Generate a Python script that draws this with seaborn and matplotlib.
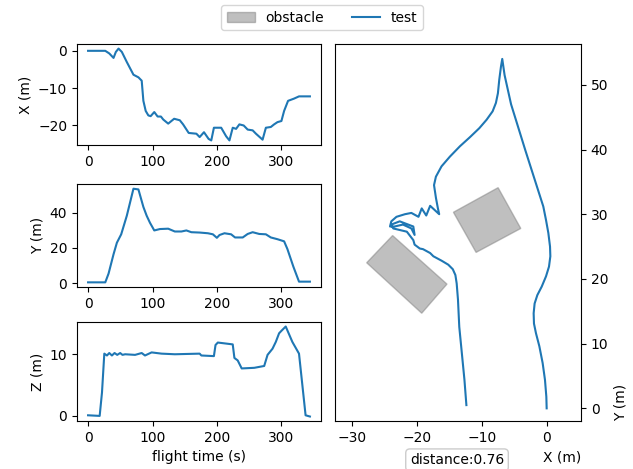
import matplotlib
matplotlib.use("Agg")
import matplotlib.pyplot as plt
import matplotlib.patches as mpatches
from matplotlib.lines import Line2D
import seaborn as sns

# time series
t_x = [0, 26.7, 32.9, 39.5, 43.1, 47.3, 52.4, 60.1, 70.4, 78.1, 83.2, 85.8, 89.4, 93.5, 97.1,
       102.7, 107.9, 113.0, 116.6, 124.3, 133.5, 142.3, 147.4, 156.1, 168.0, 173.1, 179.8,
       187.0, 191.1, 195.2, 206.5, 214.2, 219.3, 224.4, 229.6, 234.7, 241.4, 247.6, 255.3,
       260.4, 270.7, 275.8, 283.5, 288.6, 293.8, 299.9, 304.1, 310.2, 319.5, 327.2, 344.1]
x_vals = [0, 0, -0.7, -1.9, -0.3, 0.6, -0.3, -3.0, -6.4, -7.1, -8.0, -13.4, -16.1, -17.3, -17.5,
          -16.4, -17.6, -17.6, -18.4, -19.5, -18.2, -18.6, -19.7, -22.0, -22.2, -23.1, -21.8,
          -23.6, -24.0, -20.6, -20.6, -22.9, -24.0, -20.6, -20.9, -19.7, -20.0, -21.1, -21.3,
          -22.2, -23.8, -20.6, -20.4, -19.7, -19.1, -18.8, -16.1, -13.4, -12.8, -12.2, -12.2]

t_y = [0, 26.7, 31.8, 39.5, 44.7, 51.4, 60.1, 70.4, 78.1, 85.8, 90.9, 96.0, 102.7, 111.5,
       124.3, 134.6, 144.8, 152.5, 160.2, 173.1, 185.9, 193.6, 199.8, 203.9, 211.6, 221.9,
       228.0, 239.9, 247.6, 255.3, 265.5, 275.8, 283.5, 293.8, 304.1, 309.2, 318.4, 327.2, 344.1]
y_vals = [0.4, 0.4, 5.4, 16.4, 23.0, 27.8, 38.4, 53.8, 53.4, 43.4, 38.4, 34.4, 30.0, 30.8,
          31.0, 29.4, 29.4, 30.0, 29.0, 28.8, 28.4, 27.8, 25.8, 27.4, 28.4, 27.8,
          26.0, 26.0, 28.0, 29.0, 28.0, 27.8, 26.0, 25.0, 23.8, 19.4, 9.4, 0.8, 0.8]

t_z = [0, 18.0, 21.6, 25.2, 29.3, 32.9, 37.0, 41.1, 45.2, 49.8, 53.4, 57.5, 72.9, 83.2, 88.3,
       98.6, 114.0, 134.6, 173.1, 175.7, 195.2, 197.7, 201.3, 224.4, 227.0, 232.1, 238.3,
       257.8, 273.2, 278.4, 286.1, 291.2, 296.3, 299.9, 306.6, 316.9, 327.2, 337.4, 344.1]
z_vals = [0.1, 0, 3.8, 10.1, 9.8, 10.2, 9.8, 10.2, 9.9, 10.2, 9.9, 10.0, 9.9, 10.2, 9.8,
          10.3, 10.1, 10.0, 10.1, 9.8, 9.7, 11.5, 11.9, 11.6, 9.4, 9.0, 7.7,
          7.8, 8.1, 9.9, 10.9, 12.0, 13.4, 13.8, 14.5, 12.0, 10.1, 0.1, -0.1]

# top view path
path_x = [0, -0.05, -0.26, -0.62, -1.13, -1.65, -1.96, -2.01, -1.86, -1.44, -0.77, -0.1,
          0.36, 0.57, 0.52, 0.26, -0.1, -0.52, -3.3, -5.5, -6.5, -6.86,
          -7.06, -7.32, -7.53, -7.84, -8.35, -9.28, -10.4, -11.86, -13.4, -14.95, -16.24,
          -17.11, -17.4, -17.1, -16.8, -16.6,
          -18.0, -18.6, -19.3, -19.8, -20.9, -21.9, -23.2, -24.0, -24.2, -23.5, -22.2, -20.9,
          -20.4, -20.6, -22.7, -24.0, -23.7, -21.6, -20.6, -20.4, -19.6, -19.1, -18.0,
          -17.5, -16.2, -15.2, -14.5, -14.1, -13.9, -13.7, -13.5, -13.1, -12.7, -12.5, -12.4]
path_y = [0, 1.8, 4.4, 7.0, 9.6, 11.6, 13.1, 14.7, 16.2, 17.5, 18.8, 20.4,
          21.9, 23.5, 25.0, 27.1, 29.1, 31.2, 39.9, 47.0, 51.5, 54.0,
          52.8, 50.8, 48.7, 47.2, 45.9, 44.6, 43.3, 41.9, 40.5, 38.9, 37.4,
          35.8, 34.5, 32.5, 30.9, 30.0,
          31.3, 29.8, 30.9, 29.6, 30.2, 30.0, 29.6, 28.9, 28.1, 28.1, 28.4, 27.8,
          26.8, 28.1, 28.9, 28.4, 27.8, 27.3, 26.0, 25.3, 24.7, 24.6, 24.0,
          23.5, 22.8, 22.2, 21.5, 20.6, 19.3, 16.8, 12.6, 8.5, 4.4, 1.8, 0.5]

# obstacle corners (X, Y)
obstacle_1 = [(-14.4, 30.3), (-7.5, 34.1), (-4.0, 27.8), (-10.9, 24.1)]
obstacle_2 = [(-27.8, 22.5), (-23.8, 26.7), (-15.4, 19.2), (-19.3, 14.7)]
distance = 0.76

line_color = "#1f77b4"

fig = plt.figure(figsize=(6.33, 4.69), dpi=100)
ax_x = fig.add_axes([0.1216, 0.6908, 0.3855, 0.2154])
ax_y = fig.add_axes([0.1216, 0.3880, 0.3855, 0.2196])
ax_z = fig.add_axes([0.1216, 0.1023, 0.3855, 0.2111])
ax_p = fig.add_axes([0.5292, 0.1023, 0.3886, 0.8038])

for ax, t, v, lab in [(ax_x, t_x, x_vals, "X (m)"),
                      (ax_y, t_y, y_vals, "Y (m)"),
                      (ax_z, t_z, z_vals, "Z (m)")]:
    sns.lineplot(x=t, y=v, ax=ax, color=line_color, linewidth=1.5)
    ax.set_ylabel(lab)
    ax.set_xticks([0, 100, 200, 300])
ax_x.set_yticks([0, -10, -20])
ax_y.set_yticks([0, 20, 40])
ax_z.set_yticks([0, 10])
ax_z.set_xlabel("flight time (s)")

for corners in [obstacle_1, obstacle_2]:
    ax_p.add_patch(mpatches.Polygon(corners, closed=True, color="gray", alpha=0.5))
sns.lineplot(x=path_x, y=path_y, ax=ax_p, color=line_color, linewidth=1.5,
             sort=False, estimator=None)
ax_p.set_xlim(-32.7, 5.3)
ax_p.set_ylim(-1.96, 56.3)
ax_p.set_xticks([-30, -20, -10, 0])
ax_p.yaxis.tick_right()
ax_p.yaxis.set_label_position("right")
ax_p.set_xlabel("X (m)", loc="right")
ax_p.set_ylabel("Y (m)", loc="bottom")

handles = [mpatches.Patch(color="gray", alpha=0.5), Line2D([], [], color=line_color)]
fig.legend(handles, ["obstacle", "test"], loc="upper center", ncol=2,
           bbox_to_anchor=(0.509, 0.989), borderaxespad=0)

fig.text(0.722, 0.019, "distance:%.2f" % distance, ha="center", va="center",
         bbox=dict(boxstyle="round", facecolor="white", edgecolor="0.8"))

fig.savefig("out.png", dpi=100)
